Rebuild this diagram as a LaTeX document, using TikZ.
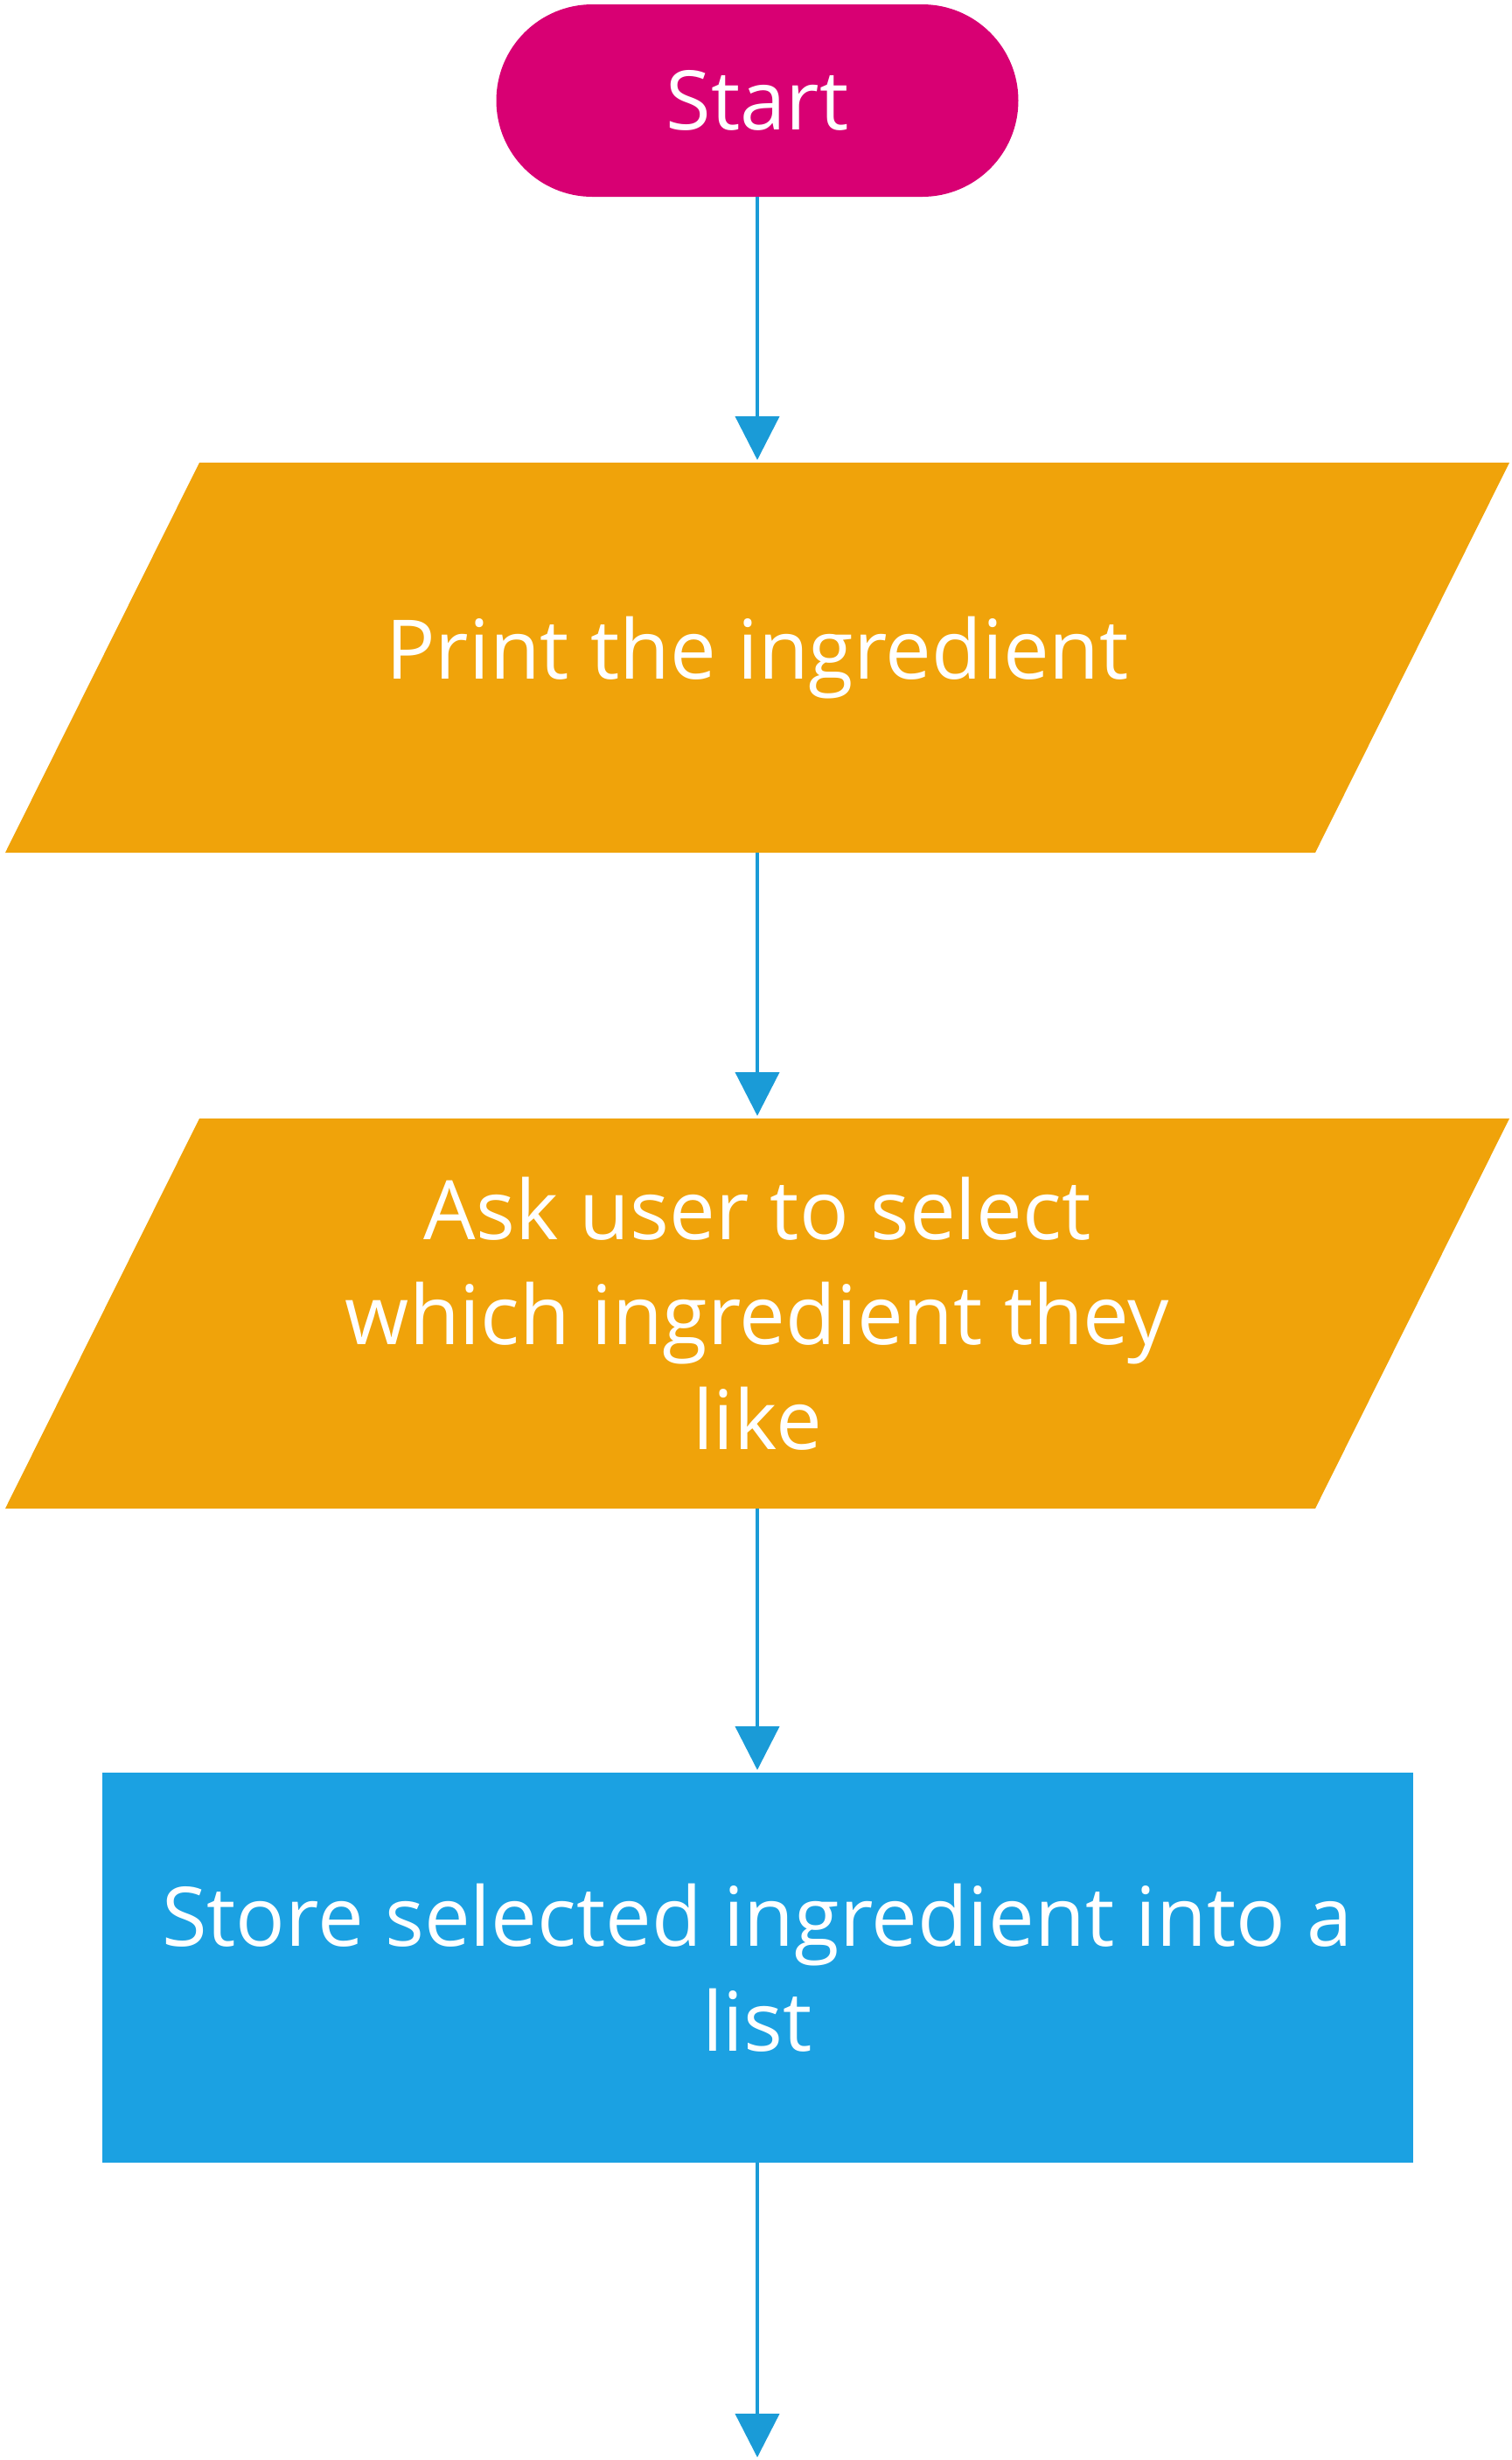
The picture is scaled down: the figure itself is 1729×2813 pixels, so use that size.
\documentclass[tikz,border=0pt]{standalone}
\usepackage{fontspec}
\setmainfont{Open Sans}
\usetikzlibrary{backgrounds, arrows.meta}
\definecolor{startpink}{HTML}{D80073}
\definecolor{ioorange}{HTML}{F0A30A}
\definecolor{procblue}{HTML}{1BA1E2}
\definecolor{flowblue}{HTML}{1A9BD7}

\begin{document}
\begin{tikzpicture}[x=0.5pt,y=-0.5pt,
		every node/.style={text=white,font=\fontsize{47}{60}\selectfont,align=center,inner sep=0pt,outer sep=0pt},
		terminal/.style={fill=startpink,minimum width=298.5pt,minimum height=110pt,rounded corners=55pt},
		iobox/.style={minimum width=749pt,minimum height=223pt},
		procbox/.style={fill=procblue,minimum width=749.5pt,minimum height=223pt},
		flow/.style={-{Triangle[length=25pt,width=25pt]},line width=2.1pt,draw=flowblue,shorten >=1.5pt}]
		\useasboundingbox (0,0) rectangle (1729,2813);
		\node[terminal] (start) at (866,115) {Start}; %開始
		\node[iobox] (print) at (866,752) {Print the ingredient}; %出力
		\node[iobox] (ask) at (866,1502) {Ask user to select\\which ingredient they\\like}; %入力
		\node[procbox] (store) at (866,2250) {Store selected ingredient into a\\list}; %処理
		\coordinate (next) at (866,2813);
		\begin{scope}[on background layer] %平行四辺形
			\foreach \io in {print,ask}
				\fill[ioorange] ([xshift=55.5pt]\io.north west)--([xshift=55.5pt]\io.north east)
					--([xshift=-55.5pt]\io.south east)--([xshift=-55.5pt]\io.south west)--cycle;
		\end{scope}
		\draw[flow] (start)--(print);
		\draw[flow] (print)--(ask);
		\draw[flow] (ask)--(store);
		\draw[flow] (store)--(next);
	\end{tikzpicture}
\end{document}
